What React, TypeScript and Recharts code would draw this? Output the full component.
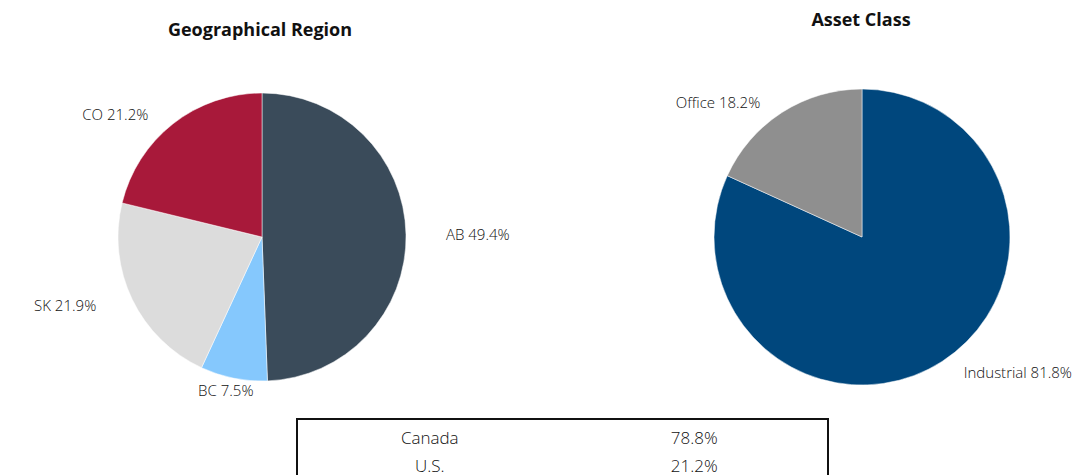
import React from "react";
import { Cell, Pie, PieChart } from "recharts";

const regionNames = ["AB", "BC", "SK", "CO"];
const regionValues = [49.4, 7.5, 21.9, 21.2];
const regionColors = ["#3a4b5a", "#85c8fd", "#dcdcdc", "#a8193a"];

const assetNames = ["Industrial", "Office"];
const assetValues = [81.8, 18.2];
const assetColors = ["#00477d", "#8f8f8f"];

const countryNames = ["Canada", "U.S."];
const countryValues = [78.8, 21.2];

const regionData = regionNames.map((name, i) => ({ name, value: regionValues[i] }));
const assetData = assetNames.map((name, i) => ({ name, value: assetValues[i] }));

const FONT = "'Open Sans', Lato, sans-serif";
const RADIAN = Math.PI / 180;

function renderLabel(props: any) {
  const { cx, cy, midAngle, outerRadius, name, value } = props;
  const cos = Math.cos(-midAngle * RADIAN);
  const sin = Math.sin(-midAngle * RADIAN);
  const x = cx + (outerRadius + 40) * cos;
  const y = cy + (outerRadius + 12) * sin;
  const anchor = Math.abs(cos) < 0.3 ? "middle" : cos > 0 ? "start" : "end";
  return (
    <text
      x={x}
      y={y}
      textAnchor={anchor}
      dominantBaseline="central"
      fill="#111"
      fontSize={15}
      fontWeight={300}
      fontFamily={FONT}
    >
      {`${name} ${value.toFixed(1)}%`}
    </text>
  );
}

const titleStyle: React.CSSProperties = {
  position: "absolute",
  fontFamily: FONT,
  fontWeight: 700,
  fontSize: 18,
  color: "#111",
  transform: "translate(-50%, -50%)",
  whiteSpace: "nowrap",
};

export default function App() {
  return (
    <div
      style={{
        position: "absolute",
        left: 0,
        top: 0,
        width: 1084,
        height: 475,
        overflow: "hidden",
        background: "#fff",
      }}
    >
      <PieChart width={1084} height={475} margin={{ top: 0, right: 0, bottom: 0, left: 0 }}>
        <Pie
          data={regionData}
          dataKey="value"
          nameKey="name"
          cx={262}
          cy={237}
          outerRadius={144}
          startAngle={90}
          endAngle={-270}
          stroke="#fff"
          strokeWidth={0.5}
          label={renderLabel}
          labelLine={false}
          isAnimationActive={false}
        >
          {regionData.map((d, i) => (
            <Cell key={d.name} fill={regionColors[i]} />
          ))}
        </Pie>
        <Pie
          data={assetData}
          dataKey="value"
          nameKey="name"
          cx={862}
          cy={237}
          outerRadius={148}
          startAngle={90}
          endAngle={-270}
          stroke="#fff"
          strokeWidth={0.5}
          label={renderLabel}
          labelLine={false}
          isAnimationActive={false}
        >
          {assetData.map((d, i) => (
            <Cell key={d.name} fill={assetColors[i]} />
          ))}
        </Pie>
      </PieChart>
      <div style={{ ...titleStyle, left: 260, top: 29 }}>Geographical Region</div>
      <div style={{ ...titleStyle, left: 861, top: 19 }}>Asset Class</div>
      <div
        style={{
          position: "absolute",
          left: 296,
          top: 418,
          width: 529,
          height: 80,
          border: "2px solid #111",
          fontFamily: FONT,
          fontWeight: 300,
          fontSize: 17,
          color: "#111",
          paddingTop: 3,
        }}
      >
        {countryNames.map((c, i) => (
          <div key={c} style={{ display: "flex", height: 28, alignItems: "center" }}>
            <div style={{ width: 264, textAlign: "center" }}>{c}</div>
            <div style={{ width: 266, textAlign: "center" }}>{`${countryValues[i].toFixed(1)}%`}</div>
          </div>
        ))}
      </div>
    </div>
  );
}
